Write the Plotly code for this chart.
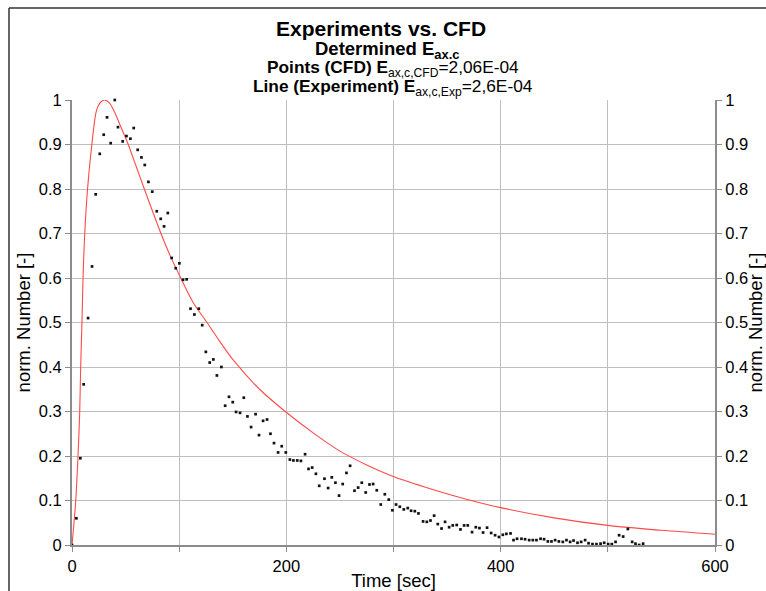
import plotly.graph_objects as go

# CFD points (time [sec], normalized number)
cfd_t = [0, 4.1, 7.8, 10.9, 15.0, 18.7, 22.1, 25.9, 29.6, 32.7, 36.1, 39.9, 42.9, 47.3, 50.8,
         54.5, 57.6, 61.3, 64.8, 67.9, 71.3, 74.9, 79.1, 82.8, 85.9, 89.4, 93.0, 96.8, 100.2,
         103.6, 107.0, 110.6, 114.2, 118.3, 121.5, 124.9, 128.5, 131.9, 135.2, 139.4, 142.9,
         146.5, 150.0, 153.1, 156.8, 160.3, 163.7, 167.1, 171.3, 174.5, 178.3, 182.0, 185.2,
         188.5, 192.3, 195.7, 199.5, 203.3, 206.6, 210.2, 213.6, 217.5, 220.7, 224.1, 227.6,
         230.7, 235.6, 239.0, 242.4, 245.8, 249.2, 252.6, 256.1, 259.5, 263.6, 267.0, 270.4,
         274.1, 277.6, 281.0, 284.4, 288.1, 291.9, 295.6, 299.0, 302.4, 305.9, 309.6, 313.3,
         316.4, 319.9, 323.3, 327.6, 331.1, 334.5, 337.9, 341.3, 344.8, 348.1, 351.9, 355.3,
         359.0, 362.5, 365.9, 369.3, 373.3, 376.8, 380.2, 383.6, 387.3, 391.1, 394.8, 398.4,
         402.0, 405.3, 409.2, 412.0, 415.3, 419.4, 422.8, 426.6, 430.0, 433.4, 437.2, 440.5,
         444.0, 447.4, 450.8, 454.3, 458.0, 461.4, 464.8, 468.0, 471.7, 475.1, 478.8, 482.0,
         485.7, 489.4, 493.2, 496.6, 500.3, 503.7, 507.2, 510.5, 514.3, 518.7, 522.7, 525.8,
         529.2, 532.9]
cfd_v = [0, 0.06, 0.195, 0.361, 0.51, 0.626, 0.788, 0.879, 0.922, 0.961, 0.903, 1.0, 0.939, 0.907, 0.919,
         0.913, 0.937, 0.888, 0.871, 0.854, 0.816, 0.794, 0.75, 0.733, 0.716, 0.746, 0.645, 0.622, 0.633,
         0.596, 0.597, 0.531, 0.518, 0.531, 0.494, 0.434, 0.41, 0.417, 0.381, 0.40, 0.313,
         0.333, 0.321, 0.299, 0.297, 0.331, 0.289, 0.265, 0.294, 0.247, 0.279, 0.282, 0.250,
         0.229, 0.208, 0.222, 0.208, 0.192, 0.19, 0.19, 0.189, 0.204, 0.171, 0.174, 0.16,
         0.133, 0.149, 0.128, 0.152, 0.14, 0.111, 0.137, 0.162, 0.178, 0.122, 0.129, 0.14,
         0.118, 0.136, 0.137, 0.123, 0.091, 0.114, 0.102, 0.078, 0.091, 0.086, 0.080, 0.083,
         0.077, 0.076, 0.071, 0.053, 0.052, 0.055, 0.066, 0.047, 0.037, 0.052, 0.040, 0.044,
         0.045, 0.035, 0.044, 0.044, 0.029, 0.040, 0.038, 0.028, 0.039, 0.027, 0.022, 0.018,
         0.023, 0.025, 0.026, 0.011, 0.014, 0.014, 0.013, 0.011, 0.011, 0.011, 0.014, 0.013,
         0.008, 0.008, 0.011, 0.008, 0.007, 0.011, 0.007, 0.010, 0.005, 0.007, 0.011, 0.004,
         0.002, 0.002, 0.003, 0.005, 0.002, 0.002, 0.007, 0.022, 0.019, 0.036, 0.007, 0.003,
         0.0, 0.003]

# Experiment line (time [sec], normalized number)
exp_t = [0, 1.5, 3.5, 5.6, 7.2, 8.1, 9.3, 10.3, 11.9, 14.5, 18.5, 22.7, 26, 30.5, 35, 39.9,
         45.5, 52.5, 60, 67.5, 75, 83, 92, 101.5, 113, 126, 138, 150, 175, 199, 225, 250,
         275, 300, 335, 368, 400, 450, 500, 550, 600]
exp_v = [0, 0.04, 0.1, 0.2, 0.3, 0.4, 0.5, 0.6, 0.7, 0.8, 0.9, 0.975, 0.993, 1.0, 0.993, 0.972,
         0.94, 0.9, 0.85, 0.8, 0.751, 0.7, 0.648, 0.6, 0.545, 0.5, 0.457, 0.417, 0.35, 0.3,
         0.252, 0.211, 0.18, 0.154, 0.126, 0.103, 0.084, 0.061, 0.044, 0.033, 0.024]

x_tickvals = [0, 100, 200, 300, 400, 500, 600]
x_ticktext = ["0", "", "200", "", "400", "", "600"]

FONT = "Liberation Sans, Arial, sans-serif"
GRID = "#bebebe"
AXIS = "#8c8c8c"

# plot area in pixels: x 72..715, y 100..545
L, R, T, B = 72, 51, 100, 46
PW, PH = 766 - L - R, 591 - T - B


def py(p):
    return (591 - B - p) / PH


def px(p):
    return (p - L) / PW


fig = go.Figure()
fig.add_trace(go.Scatter(x=exp_t, y=exp_v, mode="lines",
                         line=dict(color="#ff4a4a", width=1.1, shape="spline", smoothing=0.8),
                         name="Experiment", cliponaxis=False))
fig.add_trace(go.Scatter(x=cfd_t, y=cfd_v, mode="markers",
                         marker=dict(color="#111111", size=2.7, symbol="square"),
                         name="CFD", cliponaxis=False))
fig.add_trace(go.Scatter(x=[0], y=[0], yaxis="y2", mode="markers", marker=dict(opacity=0),
                         showlegend=False, hoverinfo="skip"))

common_y = dict(range=[0, 1], dtick=0.1, showline=True, linecolor=AXIS, linewidth=2, ticks="outside",
                ticklen=5, tickcolor=AXIS, zeroline=False, tickfont=dict(size=16.5), automargin=False)

fig.update_layout(
    width=766, height=591,
    margin=dict(l=L, r=R, t=T, b=B),
    paper_bgcolor="white", plot_bgcolor="white",
    showlegend=False,
    font=dict(family=FONT, size=16, color="black"),
    xaxis=dict(range=[0, 600], tickvals=x_tickvals, ticktext=x_ticktext, showgrid=True, gridcolor=GRID,
               gridwidth=1, showline=True, linecolor=AXIS, linewidth=2, ticks="outside", ticklen=5,
               tickcolor=AXIS, zeroline=False, tickfont=dict(size=16.5), automargin=False,
               title=dict(text="Time [sec]", font=dict(size=18.5), standoff=4)),
    yaxis=dict(showgrid=True, gridcolor=GRID, gridwidth=1,
               title=dict(text="norm. Number [-]", font=dict(size=18.5), standoff=3), **common_y),
    yaxis2=dict(overlaying="y", side="right", showgrid=False,
                title=dict(text="norm. Number [-]", font=dict(size=18.5), standoff=7), **common_y),
)

titles = [
    ("<b>Experiments vs. CFD</b>", 21, 381, 28),
    ("<b>Determined E<sub>ax.c</sub></b>", 18.5, 387, 50),
    ("<b>Points (CFD) E</b><sub>ax,c,CFD</sub>=2,06E-04", 17.3, 393, 69),
    ("<b>Line (Experiment) E</b><sub>ax,c,Exp</sub>=2,6E-04", 17.3, 393, 88),
]
for txt, sz, xpix, ypix in titles:
    fig.add_annotation(text=txt, xref="paper", yref="paper", x=px(xpix), y=py(ypix),
                       xanchor="center", yanchor="middle", showarrow=False,
                       font=dict(size=sz, family=FONT, color="black"))

# outer chart frame (left and top edges visible)
fig.add_shape(type="line", xref="paper", yref="paper", x0=px(9), x1=px(9), y0=py(600), y1=py(8),
              line=dict(color="#333333", width=1.5))
fig.add_shape(type="line", xref="paper", yref="paper", x0=px(9), x1=px(780), y0=py(8), y1=py(8),
              line=dict(color="#333333", width=1.5))

fig.write_html("out.html", config={"displayModeBar": False},
               post_script="document.body.style.margin='0';document.body.style.overflow='hidden';")
